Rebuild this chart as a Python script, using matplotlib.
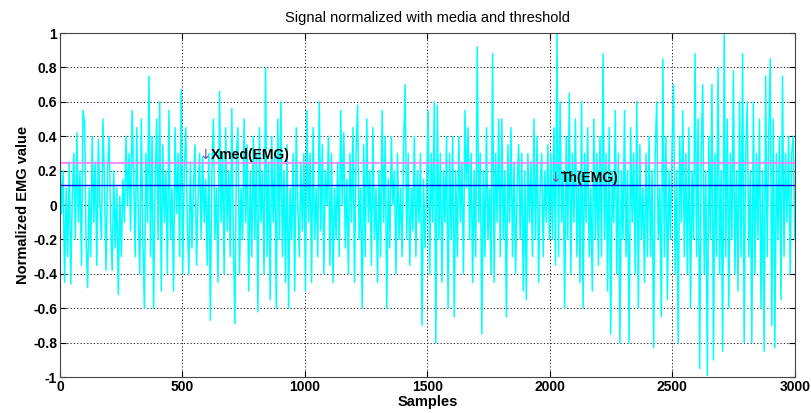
import numpy as np
import matplotlib
matplotlib.use('Agg')
import matplotlib.pyplot as plt

plt.rcParams['font.family'] = ['Liberation Sans', 'DejaVu Sans']

# EMG signal (100 samples per row)
emg_blocks = [
    [0.33, -0.05, 0.2, -0.45, 0.1, -0.3, 0.25, -0.46, 0.05, 0.3, -0.2, 0.42, -0.1, 0.2, -0.35, 0.55],
    [0.48, -0.2, -0.48, 0.1, -0.3, 0.4, -0.1, 0.25, -0.35, 0.38, 0.0, -0.2, 0.5, 0.1, -0.38, 0.2],
    [0.4, -0.1, -0.38, 0.2, -0.25, 0.1, -0.52, 0.05, -0.3, 0.15, -0.1, 0.4, 0.0, 0.3, -0.15, 0.55],
    [0.2, -0.3, 0.45, -0.05, -0.4, 0.5, -0.2, -0.6, 0.3, -0.1, 0.75, -0.3, 0.4, -0.6, 0.1, 0.5],
    [-0.2, 0.6, -0.5, 0.35, -0.1, 0.2, -0.4, 0.55, -0.2, 0.1, -0.5, 0.45, -0.05, 0.3, -0.3, 0.67],
    [-0.4, 0.2, 0.45, -0.1, -0.4, 0.25, -0.25, 0.1, 0.35, -0.35, 0.05, 0.3, -0.2, 0.28, -0.1, 0.15],
    [-0.35, 0.3, -0.67, 0.2, 0.5, -0.2, 0.1, -0.45, 0.66, -0.1, 0.3, -0.4, 0.45, -0.15, 0.2, -0.3],
    [0.56, -0.2, -0.69, 0.3, 0.45, -0.4, 0.1, -0.2, 0.5, -0.1, 0.35, -0.5, 0.2, -0.3, 0.4, -0.2],
    [0.3, -0.62, 0.45, -0.1, 0.2, -0.4, 0.8, -0.3, 0.25, -0.55, 0.4, -0.1, 0.3, -0.6, 0.5, -0.2],
    [0.6, -0.3, 0.2, -0.45, 0.35, -0.6, 0.1, -0.2, 0.3, -0.5, 0.45, 0.0, -0.3, 0.25, -0.15, 0.3],
    [-0.5, 0.55, -0.1, 0.3, -0.45, 0.45, -0.2, 0.1, -0.3, 0.6, -0.15, 0.35, -0.4, 0.2, 0.0, 0.4],
    [-0.35, 0.3, -0.45, 0.1, -0.2, 0.25, -0.3, 0.55, 0.0, 0.42, -0.25, 0.15, -0.4, 0.3, -0.1, 0.45],
    [-0.45, 0.3, 0.58, -0.2, 0.1, -0.6, 0.35, -0.3, 0.5, -0.1, 0.2, -0.35, 0.45, -0.2, 0.1, -0.45],
    [0.2, -0.3, 0.55, -0.1, 0.4, -0.6, 0.15, -0.25, 0.4, 0.0, 0.2, -0.4, 0.3, -0.2, 0.1, -0.3],
    [0.35, 0.7, -0.2, 0.3, -0.35, 0.1, -0.15, 0.4, -0.3, 0.2, -0.1, 0.3, -0.7, 0.15, -0.25, 0.1],
    [0.55, -0.4, 0.3, -0.1, 0.6, -0.8, 0.58, -0.2, 0.3, -0.45, 0.2, -0.1, 0.4, -0.6, 0.3, -0.2],
    [0.4, -0.65, 0.2, -0.3, 0.4, -0.1, 0.25, -0.4, 0.55, 0.1, 0.45, -0.2, 0.3, -0.45, 0.2, -0.3],
    [0.92, -0.1, 0.3, -0.75, 0.2, -0.3, 0.45, -0.2, 0.1, -0.4, 0.88, -0.45, 0.3, -0.1, 0.5, -0.3],
    [0.5, -0.2, 0.2, -0.65, 0.35, -0.1, 0.45, -0.3, 0.25, -0.4, 0.1, 0.35, -0.2, 0.3, -0.5, 0.2],
    [-0.55, 0.3, -0.1, 0.25, -0.3, 0.5, -0.2, 0.4, -0.45, 0.1, 0.3, -0.3, 0.2, -0.1, 0.35, -0.2],
    [0.3, -0.2, 0.45, -0.35, 1.0, -0.3, 0.6, -0.1, 0.2, -0.6, 0.4, -0.2, 0.65, -0.4, 0.3, -0.1],
    [0.5, -0.3, 0.2, -0.45, 0.6, -0.6, 0.3, -0.1, 0.45, -0.3, 0.1, -0.5, 0.5, -0.2, 0.3, -0.35],
    [0.4, -0.3, 0.88, -0.2, 0.3, -0.5, 0.45, -0.75, 0.2, -0.1, 0.55, -0.4, 0.3, -0.8, 0.2, -0.2],
    [0.55, -0.3, 0.2, -0.8, 0.45, -0.1, 0.3, -0.4, 0.6, -0.6, 0.35, -0.2, 0.1, -0.45, 0.3, -0.3],
    [0.4, -0.3, 0.2, -0.83, 0.3, 0.6, -0.2, 0.1, -0.65, 0.85, -0.3, 0.4, -0.55, 0.2, -0.2, 0.35],
    [0.7, -0.4, 0.2, -0.8, 0.4, -0.1, 0.55, -0.3, 0.3, -0.4, 0.45, -0.6, 0.2, -0.2, 0.88, -0.3],
    [0.5, -0.95, 0.3, 0.7, -0.4, 0.2, -0.99, 0.4, -0.2, 0.7, -0.9, 0.3, -0.3, 0.8, -0.4, 0.2],
    [-0.85, 1.0, -0.3, 0.5, -0.6, 0.3, -0.2, 0.78, -0.4, 0.2, -0.5, 0.6, -0.3, 0.88, -0.8, 0.3],
    [0.6, -0.3, 0.2, -0.8, 0.6, -0.4, 0.3, -0.2, 0.5, -0.6, 0.2, -0.85, 0.75, -0.3, 0.4, 0.85],
    [-0.7, 0.5, -0.83, 0.3, -0.2, 0.4, -0.55, 0.75, -0.3, 0.3, -0.1, 0.4, -0.4, 0.3, 0.4, -0.2],
]
emg = np.concatenate(emg_blocks)
samples = np.linspace(0, 3000, len(emg))

xmed = 0.245   # media line
th = 0.115     # threshold line

xticks = [0, 500, 1000, 1500, 2000, 2500, 3000]
yticks = [-1, -0.8, -0.6, -0.4, -0.2, 0, 0.2, 0.4, 0.6, 0.8, 1]
ytick_labels = ['-1', '-0.8', '-0.6', '-0.4', '-0.2', '0', '0.2', '0.4', '0.6', '0.8', '1']

fig = plt.figure(figsize=(8.11, 4.13), dpi=100)
ax = fig.add_axes([0.074, 0.087, 0.906, 0.833])

ax.plot(samples, emg, color='#00ffff', lw=1.1)
ax.axhline(xmed, color='#ff77ff', lw=1.2)
ax.axhline(th, color='#0000ff', lw=1.0)

# arrow glyph needs DejaVu (Liberation has no U+2193)
ax.text(568, xmed + 0.045, '\u2193', color='#7a4a9a', fontsize=10, va='center', ha='left',
        family='DejaVu Sans')
ax.text(615, xmed + 0.045, 'Xmed(EMG)', color='black', fontsize=10, fontweight='bold', va='center', ha='left')
ax.text(1998, th + 0.045, '\u2193', color='#7a4a9a', fontsize=10, va='center', ha='left',
        family='DejaVu Sans')
ax.text(2046, th + 0.045, 'Th(EMG)', color='black', fontsize=10, fontweight='bold', va='center', ha='left')

ax.set_xlim(0, 3000)
ax.set_ylim(-1, 1)
ax.set_xticks(xticks)
ax.set_yticks(yticks)
ax.set_yticklabels(ytick_labels)
ax.tick_params(direction='in', top=True, right=True, labelsize=10, length=4, pad=2)
for lab in ax.get_xticklabels() + ax.get_yticklabels():
    lab.set_fontweight('bold')
ax.grid(True, color='black', linestyle=(0, (1.5, 2.5)), lw=0.6)
for sp in ax.spines.values():
    sp.set_color('#444444')

ax.set_xlabel('Samples', fontsize=10.5, fontweight='bold', labelpad=1)
ax.set_ylabel('Normalized EMG value', fontsize=10.5, fontweight='bold', labelpad=2)
ax.set_title('Signal normalized with media and threshold', fontsize=10.5, pad=8)

fig.savefig('out.png', dpi=100)
